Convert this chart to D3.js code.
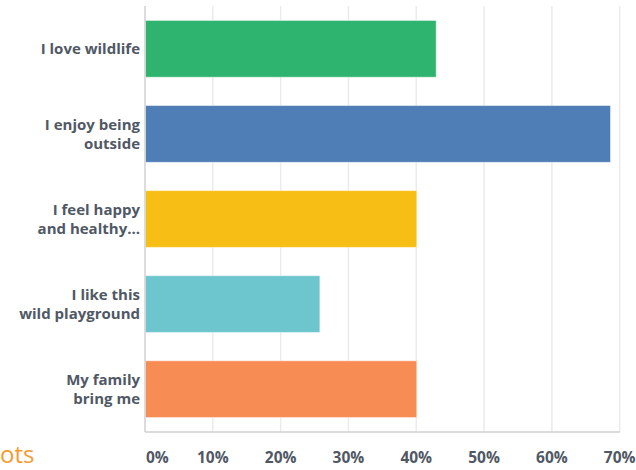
<!DOCTYPE html>
<html>
<head>
<meta charset="utf-8">
<script src="https://cdn.jsdelivr.net/npm/d3@7"></script>
<style>
  body { margin: 0; background: #fff; }
  text { font-family: "Open Sans", sans-serif; font-weight: 700; }
</style>
</head>
<body>
<div id="chart"></div>
<script>
// answers and share of respondents (%)
const answers = [
    ["I love wildlife"],
    ["I enjoy being", "outside"],
    ["I feel happy", "and healthy..."],
    ["I like this", "wild playground"],
    ["My family", "bring me"],
]
const shares = [42.86, 68.57, 40, 25.71, 40]
const barColors = ["#2eb46e", "#4f7db5", "#f7be16", "#6dc6ce", "#f78c55"]
const ticks = [0, 10, 20, 30, 40, 50, 60, 70]

const dimensions = {
    width: 636,
    height: 470,
    margin: { top: 6, right: 16, bottom: 38, left: 145 },
}
dimensions.boundedWidth = dimensions.width - dimensions.margin.left - dimensions.margin.right
dimensions.boundedHeight = dimensions.height - dimensions.margin.top - dimensions.margin.bottom

const data = answers.map((a, i) => ({ label: a, value: shares[i], color: barColors[i], key: i }))

const xScale = d3.scaleLinear()
    .domain([0, 70])
    .range([0, 474.7])

const yScale = d3.scaleBand()
    .domain(data.map(d => d.key))
    .range([0, dimensions.boundedHeight])
    .paddingInner(0.333)
    .paddingOuter(0.17)

const wrapper = d3.select("#chart").append("svg")
    .attr("width", dimensions.width)
    .attr("height", dimensions.height)

// clipped title from the page behind the chart
wrapper.append("text")
    .attr("x", 0)
    .attr("y", 463)
    .attr("font-size", "24px")
    .style("font-weight", 400)
    .attr("fill", "#f79a2e")
    .text("ots")

const bounds = wrapper.append("g")
    .attr("transform", `translate(${dimensions.margin.left}, ${dimensions.margin.top})`)

//GRIDLINES
bounds.append("g")
    .selectAll("line")
    .data(ticks.slice(1))
    .enter()
    .append("line")
    .attr("x1", d => xScale(d))
    .attr("x2", d => xScale(d))
    .attr("y1", 0)
    .attr("y2", dimensions.boundedHeight)
    .attr("stroke", "#ebebeb")
    .attr("stroke-width", 1.5)

//BARS
bounds.append("g")
    .selectAll("rect")
    .data(data)
    .enter()
    .append("rect")
    .attr("x", 0.5)
    .attr("y", d => yScale(d.key))
    .attr("width", d => xScale(d.value))
    .attr("height", yScale.bandwidth())
    .attr("fill", d => d.color)
    .attr("stroke", "rgba(255,255,255,0.45)")
    .attr("stroke-width", 1)

//AXIS LINES
bounds.append("line")
    .attr("x1", 0).attr("x2", 0)
    .attr("y1", 0).attr("y2", dimensions.boundedHeight)
    .attr("stroke", "#d0d0d0")
    .attr("stroke-width", 1.5)
bounds.append("line")
    .attr("x1", 0).attr("x2", dimensions.boundedWidth)
    .attr("y1", dimensions.boundedHeight).attr("y2", dimensions.boundedHeight)
    .attr("stroke", "#d0d0d0")
    .attr("stroke-width", 1.5)

//CATEGORY LABELS
const labels = bounds.append("g")
    .selectAll("text")
    .data(data)
    .enter()
    .append("text")
    .attr("text-anchor", "end")
    .attr("font-size", "15px")
    .attr("fill", "#505865")
    .attr("transform", d => `translate(-5, ${yScale(d.key) + yScale.bandwidth() / 2})`)

labels.selectAll("tspan")
    .data(d => d.label.map((l, i) => ({ l, i, n: d.label.length })))
    .enter()
    .append("tspan")
    .attr("x", 0)
    .attr("y", t => (t.i - (t.n - 1) / 2) * 19)
    .attr("dy", "0.35em")
    .text(t => t.l)

//TICK LABELS
bounds.append("g")
    .attr("transform", `translate(0, ${dimensions.boundedHeight + 31})`)
    .selectAll("text")
    .data(ticks)
    .enter()
    .append("text")
    .attr("x", d => d == 0 ? 1 : xScale(d))
    .attr("text-anchor", d => d == 0 ? "start" : "middle")
    .attr("font-size", "15.5px")
    .attr("fill", "#505865")
    .text(d => d + "%")
</script>
</body>
</html>
